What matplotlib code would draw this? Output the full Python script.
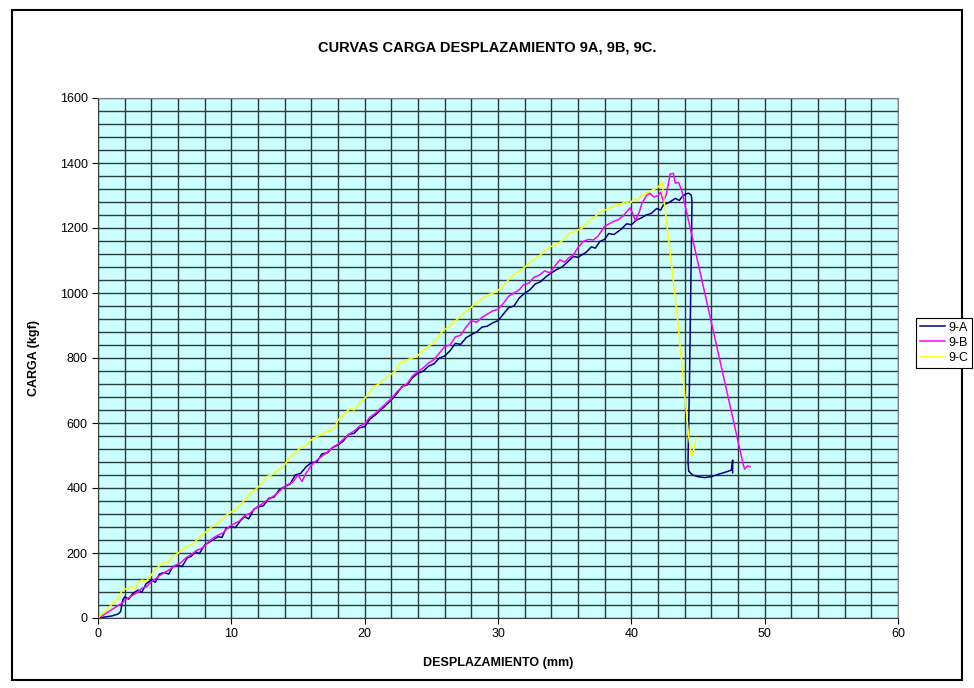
import matplotlib.pyplot as plt
from matplotlib.patches import Rectangle

plt.rcParams['font.family'] = ['Liberation Sans', 'DejaVu Sans']

# 9-A
xa = [0, 0.5, 1.0, 1.5, 1.7, 1.85, 2.0, 2.3, 2.6, 3.0, 3.3, 3.6, 4.0, 4.3, 4.6, 5.0, 5.3, 5.6,
      6.0, 6.3, 6.7, 7.0, 7.3, 7.6, 8.0, 8.3, 8.6, 9.0, 9.3, 9.6, 10.0, 10.3, 10.7, 11.0, 11.3,
      11.7, 12.0, 12.4, 12.8, 13.2, 13.6, 14.0, 14.4, 14.8, 15.2, 15.6, 16.0, 16.4, 16.8, 17.2,
      17.6, 18.0, 18.4, 18.8, 19.2, 19.6, 20.0, 20.4, 20.8, 21.2, 21.6, 22.0, 22.4, 22.8, 23.2,
      23.6, 24.0, 24.4, 24.8, 25.2, 25.6, 26.0, 26.4, 26.8, 27.2, 27.6, 28.0, 28.4, 28.8, 29.2,
      29.6, 30.0, 30.4, 30.8, 31.2, 31.6, 32.0, 32.4, 32.8, 33.2, 33.6, 34.0, 34.4, 34.8, 35.2,
      35.65, 36.0, 36.6, 37.0, 37.3, 37.65, 38.0, 38.3, 38.7, 39.2, 39.65, 40.0, 40.4, 40.8, 41.1,
      41.5, 41.9, 42.2, 42.4, 42.8, 43.3, 43.6, 43.8, 44.1, 44.3, 44.5, 44.55, 44.45, 44.35, 44.25,
      44.3, 44.6, 45.0, 45.5, 46.0, 46.5, 47.0, 47.5, 47.6, 47.6]
ya = [0, 3, 6, 12, 20, 55, 65, 58, 75, 86, 80, 105, 117, 110, 135, 140, 135, 158,
      163, 158, 185, 190, 204, 198, 225, 232, 240, 250, 248, 275, 281, 278, 300, 312, 305,
      335, 342, 345, 368, 372, 395, 404, 412, 440, 445, 465, 478, 480, 505, 508,
      525, 532, 545, 565, 568, 585, 589, 612, 625, 640, 655, 671, 690, 712, 718,
      740, 753, 760, 775, 782, 800, 806, 822, 845, 842, 862, 872, 880, 895, 898,
      908, 915, 935, 955, 960, 985, 999, 1010, 1028, 1035, 1050, 1062, 1072, 1080, 1095,
      1112, 1110, 1125, 1142, 1138, 1159, 1165, 1183, 1180, 1195, 1213, 1210, 1225, 1232, 1240,
      1245, 1260, 1255, 1271, 1278, 1291, 1285, 1296, 1305, 1307, 1301, 1280, 1000, 700, 480,
      452, 440, 435, 432, 435, 442, 448, 455, 486, 447]

# 9-B
xb = [0, 0.5, 1.0, 1.5, 1.8, 2.0, 2.3, 2.6, 3.0, 3.3, 3.6, 4.0, 4.3, 4.6, 5.0, 5.4, 5.8, 6.2,
      6.6, 7.0, 7.4, 7.8, 8.2, 8.6, 9.0, 9.4, 9.8, 10.2, 10.6, 11.0, 11.4, 11.8, 12.2, 12.6,
      13.0, 13.4, 13.8, 14.2, 14.6, 15.0, 15.3, 15.6, 16.0, 16.4, 16.8, 17.2, 17.6, 18.0, 18.4,
      18.8, 19.2, 19.6, 20.0, 20.4, 20.8, 21.2, 21.6, 22.0, 22.4, 22.8, 23.2, 23.6, 24.0, 24.4,
      24.8, 25.2, 25.6, 26.0, 26.4, 26.8, 27.2, 27.6, 28.0, 28.4, 28.8, 29.2, 29.6, 30.0, 30.4,
      30.8, 31.2, 31.6, 31.9, 32.3, 32.7, 33.1, 33.5, 33.9, 34.3, 34.65, 35.0, 35.3, 35.65, 36.0,
      36.4, 36.8, 37.15, 37.5, 38.0, 38.3, 38.65, 39.0, 39.4, 39.9, 40.1, 40.3, 40.6, 40.8, 41.15,
      41.4, 41.7, 42.0, 42.2, 42.4, 42.6, 42.8, 42.9, 43.15, 43.3, 43.55, 43.8, 48.4, 48.5, 48.7,
      48.9]
yb = [0, 12, 25, 38, 45, 55, 62, 70, 80, 92, 95, 112, 120, 130, 140, 150, 162, 170,
      185, 195, 208, 215, 230, 245, 255, 262, 280, 290, 298, 315, 322, 338, 348, 360,
      370, 382, 398, 410, 418, 440, 420, 445, 470, 485, 498, 510, 525, 535, 550,
      565, 575, 590, 598, 618, 630, 645, 660, 675, 695, 710, 722, 745, 758, 770,
      785, 795, 815, 835, 840, 865, 870, 895, 915, 910, 925, 935, 945, 950, 968,
      990, 1000, 1010, 1025, 1030, 1048, 1055, 1068, 1062, 1085, 1102, 1095, 1108, 1117, 1140,
      1159, 1165, 1163, 1175, 1205, 1212, 1220, 1225, 1238, 1262, 1245, 1222, 1250, 1276, 1301,
      1307, 1295, 1300, 1310, 1281, 1300, 1340, 1366, 1368, 1338, 1340, 1312, 471, 458, 468,
      466]

# 9-C
xc = [0, 0.5, 1.0, 1.5, 1.65, 1.8, 2.1, 2.5, 2.8, 3.0, 3.3, 3.6, 4.0, 4.3, 4.6, 4.8, 5.2, 5.6,
      6.0, 6.3, 6.7, 7.0, 7.3, 7.6, 8.0, 8.3, 8.5, 8.9, 9.3, 9.8, 10.2, 10.6, 11.0, 11.4, 11.8,
      12.3, 12.65, 13.0, 13.5, 13.9, 14.3, 14.7, 15.15, 15.5, 16.0, 16.4, 16.8, 17.2, 17.5, 17.8,
      18.0, 18.4, 18.9, 19.2, 19.6, 20.0, 20.3, 20.65, 21.0, 21.4, 21.8, 22.4, 22.65, 23.0, 23.4,
      23.9, 24.3, 24.7, 25.15, 25.5, 25.9, 26.3, 26.7, 27.15, 27.5, 27.9, 28.3, 28.9, 29.3, 29.9,
      30.3, 30.9, 31.3, 31.9, 32.3, 32.65, 33.0, 33.5, 33.9, 34.4, 34.9, 35.4, 35.8, 36.3, 36.6,
      36.9, 37.2, 37.65, 38.0, 38.3, 38.8, 39.2, 39.5, 39.9, 40.2, 40.5, 40.8, 41.15, 41.6, 41.9,
      42.15, 42.3, 43.4, 44.3, 44.5, 44.7, 44.85]
yc = [0, 20, 40, 62, 71, 86, 90, 96, 90, 108, 117, 112, 132, 150, 160, 168, 170, 190,
      199, 210, 222, 225, 235, 250, 262, 270, 281, 290, 305, 322, 330, 345, 363, 384, 395,
      414, 435, 440, 455, 466, 490, 505, 522, 530, 548, 558, 565, 575, 578, 590,
      609, 625, 645, 640, 660, 676, 690, 712, 718, 732, 745, 763, 784, 790, 798,
      804, 820, 835, 845, 865, 886, 895, 910, 927, 940, 953, 968, 984, 995, 1004,
      1020, 1045, 1058, 1076, 1090, 1102, 1110, 1130, 1142, 1150, 1163, 1185, 1190, 1199, 1215,
      1225, 1232, 1250, 1255, 1260, 1270, 1272, 1281, 1275, 1290, 1286, 1300, 1307, 1317, 1322,
      1332, 1342, 948, 560, 498, 520, 555]

fig = plt.figure(figsize=(9.74, 6.88), dpi=100)
fig.patches.append(Rectangle((12 / 974, 1 - 680 / 688), 950 / 974, 670 / 688,
                             transform=fig.transFigure, fill=False, edgecolor='black',
                             linewidth=1.5, zorder=-1))

ax = fig.add_axes([98 / 974, 1 - 618 / 688, 800 / 974, 520 / 688])
ax.set_facecolor('#CCFFFF')

ax.plot(xa, ya, color='#000080', linewidth=1.1, label='9-A')
ax.plot(xb, yb, color='#FF00FF', linewidth=1.1, label='9-B')
ax.plot(xc, yc, color='#FFFF00', linewidth=1.1, label='9-C')

ax.set_xlim(0, 60)
ax.set_ylim(0, 1600)
ax.set_xticks(range(0, 61, 10))
ax.set_yticks(range(0, 1601, 200))
ax.set_xticks(range(0, 61, 2), minor=True)
ax.set_yticks(range(0, 1601, 40), minor=True)
ax.tick_params(axis='x', which='minor', length=0)
ax.tick_params(axis='y', which='minor', length=0)
ax.tick_params(which='major', direction='out', length=4, labelsize=9, colors='black')
ax.grid(True, which='both', color='#2a3a3a', linewidth=1.0)
ax.set_axisbelow(True)

for side in ['top', 'right']:
    ax.spines[side].set_color('#808080')
for side in ['left', 'bottom']:
    ax.spines[side].set_color('#404040')

ax.set_xlabel('DESPLAZAMIENTO (mm)', fontsize=9, fontweight='bold', labelpad=12)
ax.set_ylabel('CARGA (kgf)', fontsize=9, fontweight='bold', labelpad=14)
fig.text(0.5, 1 - 47 / 688, 'CURVAS CARGA DESPLAZAMIENTO 9A, 9B, 9C.', ha='center', va='center',
         fontsize=10.5, fontweight='bold')

leg = ax.legend(loc='upper left', bbox_to_anchor=(916 / 974, 1 - 318 / 688),
                bbox_transform=fig.transFigure, fontsize=9, frameon=True, fancybox=False,
                borderaxespad=0, handlelength=2.0, handletextpad=0.3, labelspacing=0.25,
                borderpad=0.3, framealpha=1)
leg.get_frame().set_edgecolor('black')
leg.get_frame().set_linewidth(0.8)

plt.savefig('out.png', dpi=100)
